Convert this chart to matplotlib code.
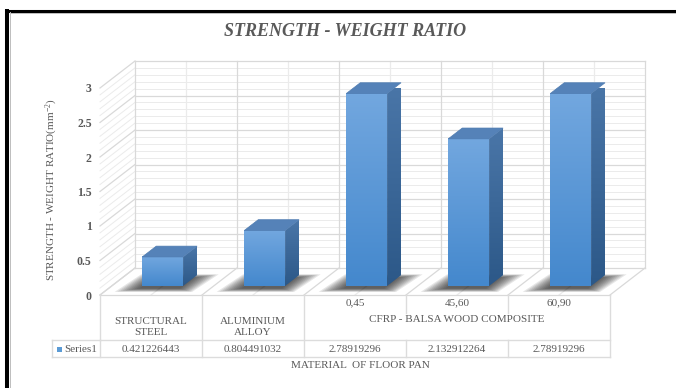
import numpy as np
import matplotlib
matplotlib.use("Agg")
import matplotlib.pyplot as plt
from matplotlib.patches import Polygon
from matplotlib.lines import Line2D
from matplotlib.transforms import Affine2D, IdentityTransform

# ---- data -------------------------------------------------------------
sub_labels = ["", "", "0,45", "45,60", "60,90"]
group_labels = ["STRUCTURAL\nSTEEL", "ALUMINIUM\nALLOY", "CFRP - BALSA WOOD COMPOSITE"]
group_spans = [(0, 1), (1, 2), (2, 5)]
values = [0.421226443, 0.804491032, 2.78919296, 2.132912264, 2.78919296]
value_text = ["0.421226443", "0.804491032", "2.78919296", "2.132912264", "2.78919296"]
series_name = "Series1"
y_ticks = [0, 0.5, 1, 1.5, 2, 2.5, 3]
y_tick_labels = ["0", "0.5", "1", "1.5", "2", "2.5", "3"]
title = "STRENGTH - WEIGHT RATIO"
y_label = "STRENGTH - WEIGHT RATIO(mm$^{-2}$)"
x_label = "MATERIAL  OF FLOOR PAN"

# ---- style ------------------------------------------------------------
plt.rcParams["font.family"] = ["Liberation Serif", "DejaVu Serif"]
plt.rcParams["mathtext.fontset"] = "custom"
plt.rcParams["mathtext.rm"] = "Liberation Serif"
plt.rcParams["mathtext.it"] = "Liberation Serif:italic"
TXT = "#595959"
GRID_MAJ = "#d9d9d9"
GRID_MIN = "#ebebeb"

W, H, DPI = 676, 388, 100
fig = plt.figure(figsize=(W / DPI, H / DPI), dpi=DPI)
fig.patch.set_facecolor("white")

# front plane of the 3-D plot box
ax = fig.add_axes([100 / W, (H - 295) / H, 510 / W, 207 / H])
ax.set_xlim(0, len(values))
ax.set_ylim(0, 3)
ax.patch.set_alpha(0)
for s in ax.spines.values():
    s.set_visible(False)
ax.set_xticks([])
ax.set_yticks(y_ticks, y_tick_labels)
ax.tick_params(axis="y", length=0, pad=6, labelsize=8.5, labelcolor=TXT)
for lab in ax.get_yticklabels():
    lab.set_fontweight("bold")

# oblique depth offset (pixels) for the full depth of the box
DX, DY = 35.0, 27.0
ID = IdentityTransform()


def P(x, v, d):
    X, Y = ax.transData.transform((x, v))
    return (X + DX * d, Y + DY * d)


def line(p, q, color, lw=0.8, z=1):
    ax.add_line(Line2D([p[0], q[0]], [p[1], q[1]], color=color, lw=lw,
                       transform=ID, clip_on=False, zorder=z))


n = len(values)
# ---- walls and floor --------------------------------------------------
minor = np.round(np.arange(0, 3.0001, 0.1), 2)
for v in minor:
    major = abs(v * 2 - round(v * 2)) < 1e-6
    c = GRID_MAJ if major else GRID_MIN
    lw = 0.9 if major else 0.7
    z = 1.2 if major else 1
    line(P(0, v, 1), P(n, v, 1), c, lw, z)      # back wall
    line(P(0, v, 0), P(0, v, 1), c, lw, z)      # left wall
for k in range(2 * n + 1):
    x = k / 2
    c = GRID_MAJ if k % 2 == 0 else GRID_MIN
    line(P(x, 0, 1), P(x, 3, 1), c, 0.9, 1.1)  # back wall verticals
    line(P(x, 0, 0), P(x, 0, 1), c, 0.9, 1.1)  # floor
line(P(0, 0, 0), P(n, 0, 0), GRID_MAJ, 0.9, 1.2)

# ---- bars -------------------------------------------------------------
BW = 0.4
D0, D1 = 1 / 3, 1 / 3 + 0.4
grad_n = 64
front_grad = np.linspace(0, 1, grad_n)[:, None]
c_top = np.array([0x72, 0xa7, 0xdf]) / 255
c_bot = np.array([0x44, 0x88, 0xcd]) / 255
front_img = (c_bot[None, None, :] * (1 - front_grad[..., None]) +
             c_top[None, None, :] * front_grad[..., None])
s_top = np.array([0x4a, 0x76, 0xa8]) / 255
s_bot = np.array([0x2c, 0x58, 0x88]) / 255
side_img = (s_bot[None, None, :] * (1 - front_grad[..., None]) +
            s_top[None, None, :] * front_grad[..., None])

for i, v in enumerate(values):
    xl, xr = i + 0.5 - BW / 2, i + 0.5 + BW / 2
    # soft floor shadow
    foot = np.array([P(xl, 0, D0), P(xr, 0, D0), P(xr, 0, D1), P(xl, 0, D1)])
    foot = foot + np.array([-3.0, -2.5])
    cen = foot.mean(axis=0)
    for k in range(10):
        grow = 1.0 + 0.05 * k
        pts = cen + (foot - cen) * np.array([grow + 0.05 * k, grow + 0.02 * k])
        ax.add_patch(Polygon(pts, closed=True, facecolor="#111111", edgecolor="none",
                             alpha=0.1, transform=ID, clip_on=False, zorder=2))
    # front face
    ax.imshow(front_img, extent=(xl, xr, 0, v), origin="lower", aspect="auto",
              interpolation="bilinear", clip_on=False, zorder=4,
              transform=ax.transData + Affine2D().translate(DX * D0, DY * D0))
    # side face
    side = np.array([P(xr, 0, D0), P(xr, 0, D1), P(xr, v, D1), P(xr, v, D0)])
    sp = Polygon(side, closed=True, transform=ID, facecolor="none", edgecolor="none")
    ax.add_patch(sp)
    ext = (side[:, 0].min(), side[:, 0].max(), side[:, 1].min(), side[:, 1].max())
    im = ax.imshow(side_img, extent=ext, origin="lower", aspect="auto",
                   interpolation="bilinear", transform=ID, zorder=4)
    im.set_clip_path(sp)
    # top face
    top = np.array([P(xl, v, D0), P(xr, v, D0), P(xr, v, D1), P(xl, v, D1)])
    ax.add_patch(Polygon(top, closed=True, facecolor="#5582b8", edgecolor="#4f7cb1",
                         lw=0.5, transform=ID, clip_on=False, zorder=5))

ax.set_xlim(0, n)
ax.set_ylim(0, 3)

# ---- data table -------------------------------------------------------
def below(off):
    return ax.transData + Affine2D().translate(0, -off)


ROW1, ROW2 = 45, 62
SUB = 18
HDR_W = 48
x0_px, y0_px = P(0, 0, 0)
xn_px, _ = P(n, 0, 0)
TC = "#dcdcdc"
line((x0_px, y0_px - ROW1), (xn_px, y0_px - ROW1), TC, 1.0, 3)
line((x0_px - HDR_W, y0_px - ROW1), (x0_px, y0_px - ROW1), TC, 1.0, 3)
line((x0_px - HDR_W, y0_px - ROW2), (xn_px, y0_px - ROW2), TC, 1.0, 3)
line((x0_px - HDR_W, y0_px - ROW1), (x0_px - HDR_W, y0_px - ROW2), TC, 1.0, 3)
for k in range(n + 1):
    xp, _ = P(k, 0, 0)
    inner = any(a < k < b for a, b in group_spans)
    if inner:
        line((xp, y0_px), (xp, y0_px - SUB), TC, 1.0, 3)
        line((xp, y0_px - ROW1), (xp, y0_px - ROW2), TC, 1.0, 3)
    else:
        line((xp, y0_px), (xp, y0_px - ROW2), TC, 1.0, 3)

for i, lab in enumerate(sub_labels):
    if lab:
        ax.text(i + 0.5, 0, lab, transform=below(8), ha="center", va="center",
                fontsize=8, color=TXT, clip_on=False)
for (a, b), lab in zip(group_spans, group_labels):
    off = 32 if "\n" in lab else 25
    ax.text((a + b) / 2, 0, lab, transform=below(off), ha="center", va="center",
            fontsize=8, color=TXT, linespacing=1.25, clip_on=False)
for i, t in enumerate(value_text):
    ax.text(i + 0.5, 0, t, transform=below(54), ha="center", va="center",
            fontsize=8, color=TXT, clip_on=False)
ax.add_patch(Polygon([(x0_px - 43, y0_px - 51.5), (x0_px - 38, y0_px - 51.5),
                      (x0_px - 38, y0_px - 56.5), (x0_px - 43, y0_px - 56.5)],
                     closed=True, facecolor="#5b9bd5", edgecolor="none",
                     transform=ID, clip_on=False, zorder=3))
ax.text(x0_px - 36, y0_px - 54, series_name, transform=ID, ha="left", va="center",
        fontsize=8, color=TXT, clip_on=False)
ax.text(n / 2 + 0.05, 0, x_label, transform=below(71), ha="center", va="center",
        fontsize=8, color=TXT, clip_on=False)

# ---- titles -----------------------------------------------------------
fig.text(345 / W, 1 - 32 / H, title, ha="center", va="center", fontsize=13,
         fontweight="bold", fontstyle="italic", color=TXT)
fig.text(52 / W, 1 - 190 / H, y_label, ha="center", va="center", rotation=90,
         fontsize=8, color=TXT)

# ---- frame ------------------------------------------------------------
fig.add_artist(Line2D([7 / W, 7 / W], [0, 1 - 9 / H], color="black", lw=2.9,
                      transform=fig.transFigure, solid_capstyle="butt"))
fig.add_artist(Line2D([5 / W, 1], [1 - 10.5 / H, 1 - 10.5 / H], color="black", lw=2.2,
                      transform=fig.transFigure, solid_capstyle="butt"))
fig.add_artist(Line2D([9.5 / W, 9.5 / W], [0, 1 - 12 / H], color="#bdbdbd", lw=0.7,
                      transform=fig.transFigure))
fig.add_artist(Line2D([9.5 / W, 1], [1 - 12.5 / H, 1 - 12.5 / H], color="#bdbdbd",
                      lw=0.7, transform=fig.transFigure))

fig.savefig("out.png", dpi=DPI, facecolor="white")
